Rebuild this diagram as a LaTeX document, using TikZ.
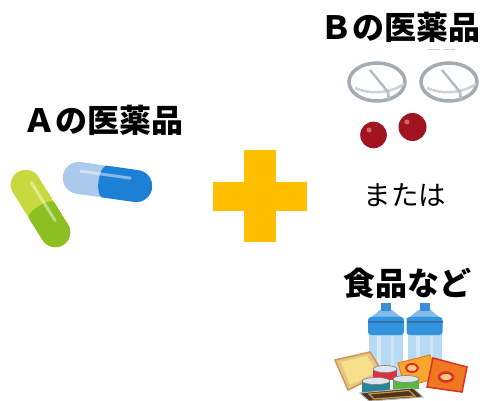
\documentclass[tikz,border=0pt]{standalone}
\usepackage{fontspec}
\newfontfamily\jpfont{Noto Sans CJK JP}
\usepackage{tikz}

\begin{document}
\begin{tikzpicture}[x=1pt,y=-1pt]

\definecolor{greenlight}{rgb}{0.78, 0.85, 0.24}
\definecolor{greendark}{rgb}{0.55, 0.75, 0.13}
\definecolor{bluelight}{rgb}{0.67, 0.79, 0.92}
\definecolor{bluedark}{rgb}{0.11, 0.50, 0.83}
\definecolor{plusyellow}{rgb}{1.0, 0.75, 0.0}
\definecolor{tabletgray}{rgb}{0.64, 0.67, 0.71}
\definecolor{tabletlight}{rgb}{0.80, 0.82, 0.85}
\definecolor{pillred}{rgb}{0.63, 0.08, 0.12}
\definecolor{pillhi}{rgb}{0.80, 0.40, 0.45}
\definecolor{bottlecap}{rgb}{0.24, 0.55, 0.85}
\definecolor{bottletop}{rgb}{0.50, 0.74, 0.93}
\definecolor{bottleband}{rgb}{0.20, 0.58, 0.87}
\definecolor{bottlebody}{rgb}{0.72, 0.85, 0.95}
\definecolor{tanfill}{rgb}{0.91, 0.77, 0.52}
\definecolor{tanedge}{rgb}{0.80, 0.60, 0.30}
\definecolor{taninner}{rgb}{0.97, 0.88, 0.55}
\definecolor{packorange}{rgb}{0.96, 0.65, 0.17}
\definecolor{packred}{rgb}{0.94, 0.47, 0.13}
\definecolor{ringred}{rgb}{0.84, 0.19, 0.16}
\definecolor{ringfill}{rgb}{0.98, 0.80, 0.50}
\definecolor{canred}{rgb}{0.85, 0.20, 0.25}
\definecolor{cangreen}{rgb}{0.35, 0.72, 0.25}
\definecolor{canteal}{rgb}{0.16, 0.52, 0.60}
\definecolor{canlid}{rgb}{0.88, 0.90, 0.93}
\definecolor{traybrown}{rgb}{0.30, 0.20, 0.14}
\definecolor{traygold}{rgb}{0.80, 0.60, 0.22}

\tikzset{
  heading/.style={font=\jpfont\bfseries\fontsize{32}{32}\selectfont, inner sep=0pt},
  plain/.style={font=\jpfont\fontsize{27.5}{27.5}\selectfont, inner sep=0pt},
  shine/.style={white, opacity=0.45, line width=3pt, line cap=round},
}

\useasboundingbox (0,0) rectangle (480,401);

% labels
\node[heading] (medA) at (103.5,120) {Ａの医薬品};
\node[heading] (medB) at (400,27) {Ｂの医薬品};
\node[plain] (orword) at (405,195) {または};
\node[heading] (foods) at (407.5,283) {食品など};

% green capsule
\begin{scope}[shift={(40.5,208.5)}, rotate=-58]
  \clip[rounded corners=15pt] (-43,-15) rectangle (43,15);
  \fill[greenlight] (-43,-15) rectangle (43,15);
  \fill[greendark] (2,-15) rectangle (43,15);
  \fill[greendark] (2,0) ellipse (5 and 15);
  \draw[shine] (-27,-6) -- (18,-6);
\end{scope}

% blue capsule
\begin{scope}[shift={(107.5,182)}, rotate=-8]
  \clip[rounded corners=16pt] (-45,-16) rectangle (45,16);
  \fill[bluelight] (-45,-16) rectangle (45,16);
  \fill[bluedark] (-3,-16) rectangle (45,16);
  \fill[bluedark] (-3,0) ellipse (6 and 16);
  \draw[shine] (-28,-7) -- (22,-7);
\end{scope}

% plus sign
\fill[plusyellow] (244,150) rectangle (276,242);
\fill[plusyellow] (213,182) rectangle (307,211);

% white tablets
\draw[tabletlight, line width=1pt] (428,50) -- (440,50) (444,50) -- (455,50);
\foreach \cx in {377,449} {
  \begin{scope}[shift={(\cx,82)}]
    \filldraw[fill=white, draw=tabletgray, line width=3.5pt] (0,0) ellipse (28 and 19);
    \draw[tabletlight, line width=2.5pt] (-22,6) .. controls (-6,13) and (14,11) .. (27,2);
    \draw[tabletgray!80, line width=2.5pt] (-7,-12) -- (11,10) -- (12,19);
  \end{scope}
}

% red pills
\fill[pillred] (373.5,135) circle (13.3);
\fill[pillhi] (369,130) circle (2.5);
\fill[pillred] (412.5,127) circle (14);
\fill[pillhi] (407,122) circle (2.5);

% water bottles
\foreach \cx in {386,424.5} {
  \fill[bottlebody] (\cx-17,333) rectangle (\cx+17,380);
  \fill[white, opacity=0.4] (\cx-9,336) rectangle (\cx-5,380);
  \fill[white, opacity=0.3] (\cx+5,336) rectangle (\cx+8,380);
  \fill[bottletop] (\cx-6,310) -- (\cx+6,310) -- (\cx+16,318) -- (\cx-16,318) -- cycle;
  \fill[bottleband, rounded corners=3pt] (\cx-18,317) rectangle (\cx+18,335);
  \draw[bottlecap!80!black, line width=1.2pt] (\cx-18,322) -- (\cx+18,322);
  \fill[bottlecap] (\cx-5,303) rectangle (\cx+5,311);
}

% snack packs
\filldraw[fill=tanfill, draw=tanedge, line width=1.5pt]
  (335,360) -- (370,352) -- (383,373) -- (348,390) -- cycle;
\fill[taninner] (341,362) -- (367,356) -- (377,372) -- (350,385) -- cycle;
\filldraw[fill=packorange, draw=packred, line width=1pt]
  (398,363) -- (430,355) -- (437,378) -- (405,387) -- cycle;
\filldraw[fill=ringfill, draw=ringred, line width=2pt] (412,368) ellipse (6 and 4);
\filldraw[fill=packred, draw=ringred, line width=1.5pt]
  (433,358) -- (467,367) -- (462,392) -- (427,387) -- cycle;
\filldraw[fill=ringfill, draw=ringred, line width=2.5pt] (446,377) ellipse (7 and 4.5);

% cans
\fill[canred] (373,369) rectangle (397,380);
\filldraw[fill=canlid, draw=gray, line width=0.6pt] (385,369) ellipse (12 and 3.5);
\fill[cangreen] (393,379) rectangle (419,389);
\filldraw[fill=canlid, draw=gray, line width=0.6pt] (406,379) ellipse (13 and 3.5);
\fill[canteal] (362,381) rectangle (390,393);
\filldraw[fill=canlid, draw=gray, line width=0.6pt] (376,381) ellipse (14 and 3.5);

% tray
\filldraw[fill=traybrown, draw=gray!60, line width=1pt]
  (360,393) -- (413,388) -- (423,397) -- (369,401) -- cycle;
\draw[traygold, line width=1.2pt] (369,394) -- (409,390.5) -- (415,396) -- (374,399) -- cycle;

\end{tikzpicture}
\end{document}
